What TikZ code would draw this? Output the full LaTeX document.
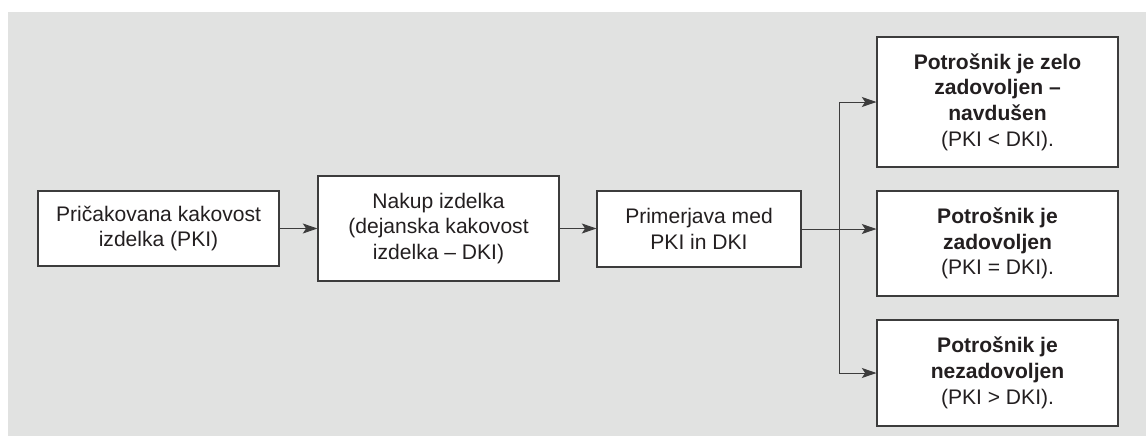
\documentclass[tikz,border=0pt]{standalone}
\usepackage{fontspec}
\setmainfont{Liberation Sans}
\usetikzlibrary{arrows.meta}
\definecolor{bggray}{HTML}{E1E2E1}
\definecolor{lineclr}{HTML}{3C3C3C}
\definecolor{txtclr}{HTML}{231F20}
\tikzset{
  box/.style={draw=lineclr, line width=0.8pt, fill=white, align=center, inner sep=2pt,
    text=txtclr, font=\fontsize{15.8}{19.3}\selectfont},
  conn/.style={draw=lineclr, line width=0.75pt, -{Stealth[length=11pt,width=7.5pt,inset=2.5pt]}},
}
\begin{document}
\begin{tikzpicture}[x=0.75pt,y=-0.75pt]
\useasboundingbox (0,0) rectangle (1146,436);
\fill[bggray] (8,12) rectangle (1146,436);
\node[box, minimum width=180.75pt, minimum height=56.25pt] (b1) at (158.5,228.5) {Pričakovana kakovost\\izdelka (PKI)};
\node[box, minimum width=180.75pt, minimum height=78.75pt] (b2) at (438.5,228.5) {Nakup izdelka\\(dejanska kakovost\\izdelka – DKI)};
\node[box, minimum width=153pt, minimum height=57pt] (b3) at (699,229) {Primerjava med\\PKI in DKI};
\node[box, minimum width=180.75pt, minimum height=97.5pt] (r1) at (997.5,102) {\textbf{Potrošnik je zelo}\\\textbf{zadovoljen –}\\\textbf{navdušen}\\(PKI < DKI).};
\node[box, minimum width=180.75pt, minimum height=78.75pt] (r2) at (997.5,243.5) {\textbf{Potrošnik je}\\\textbf{zadovoljen}\\(PKI = DKI).};
\node[box, minimum width=180.75pt, minimum height=79.5pt] (r3) at (997.5,373) {\textbf{Potrošnik je}\\\textbf{nezadovoljen}\\(PKI > DKI).};
\coordinate (br) at (839.5,229);
\draw[conn] (b1.east) -- (b1.east -| b2.west);
\draw[conn] (b2.east) -- (b2.east -| b3.west);
\draw[conn] (b3.east) -- (b3.east -| r2.west);
\draw[conn] (br) |- (r1.west);
\draw[conn] (br) |- (r3.west);
\end{tikzpicture}
\end{document}
